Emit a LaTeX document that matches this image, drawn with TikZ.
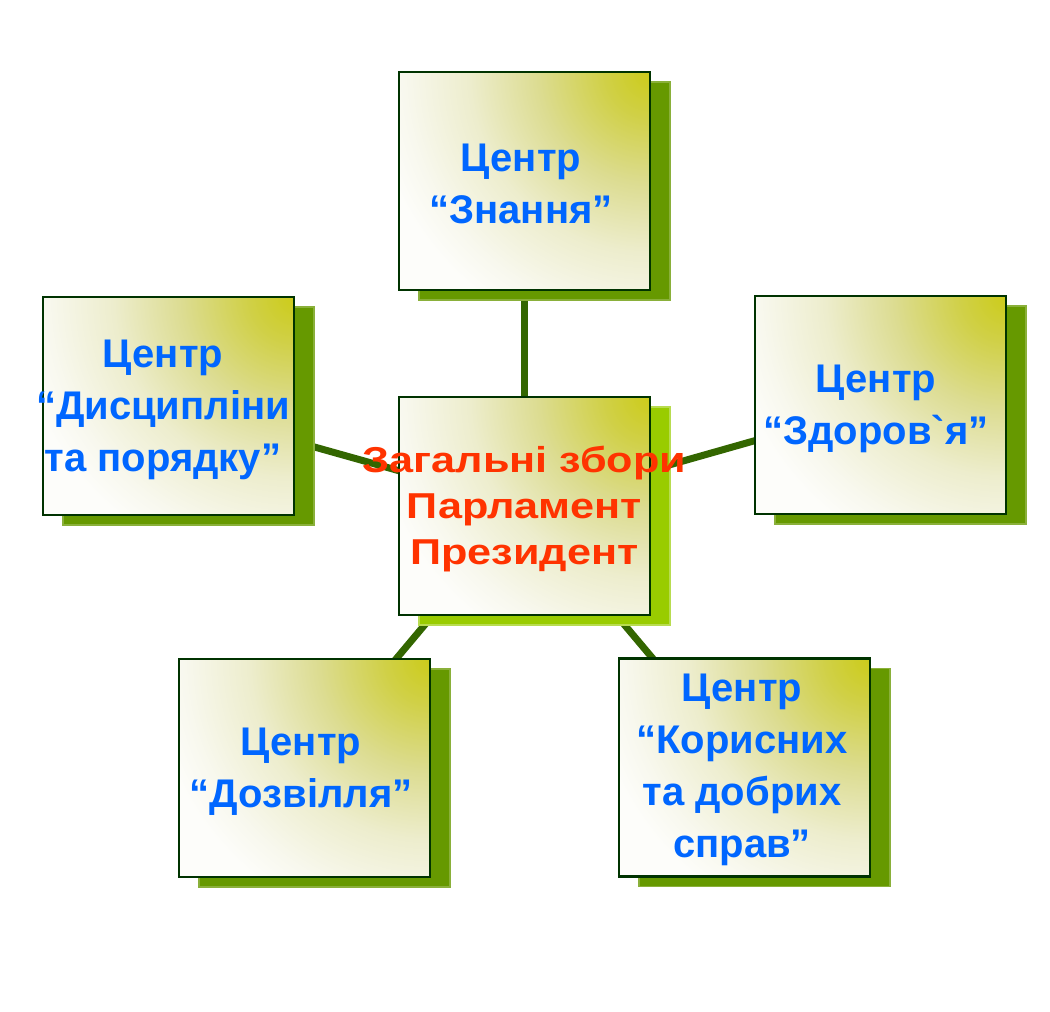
\documentclass[tikz,border=0pt]{standalone}
\usepackage{fontspec}
\newfontfamily\lsans{Liberation Sans}[Ligatures=TeXOff]
\newfontfamily\lsanswide{Liberation Sans}[FakeStretch=1.2]
\definecolor{bdr}{HTML}{003300}
\definecolor{conncol}{HTML}{336600}
\definecolor{shd}{HTML}{669900}
\definecolor{shdedge}{HTML}{8AB03A}
\definecolor{shdc}{HTML}{99CC00}
\definecolor{shdcedge}{HTML}{B8DC50}
\definecolor{blu}{RGB}{0,102,255}
\definecolor{rd}{RGB}{255,51,0}
\definecolor{ga}{RGB}{204,204,26}
\definecolor{gb}{RGB}{208,208,70}
\definecolor{gc}{RGB}{220,220,145}
\definecolor{gd}{RGB}{237,237,205}
\definecolor{ge}{RGB}{248,248,238}
\definecolor{gf}{RGB}{253,253,250}
\pgfdeclareradialshading{cornerglow}{\pgfpoint{0bp}{0bp}}{color(0bp)=(ga); color(2.8bp)=(gb); color(7bp)=(gc); color(11.3bp)=(gd); color(15.4bp)=(ge); color(17.5bp)=(gf); color(50bp)=(gf)}
\pgfdeclarelayer{bg}
\pgfsetlayers{bg,main}
\tikzset{
  gbox/.style={rectangle, inner sep=0pt, minimum width=251pt, minimum height=218pt,
    fill=gf, draw=bdr, line width=2.5pt,
    path picture={\shade[shading=cornerglow] (path picture bounding box.north east) circle (400);}},
  shadowbox/.style={rectangle, inner sep=0pt, minimum width=251pt, minimum height=218pt,
    fill=shd, draw=shdedge, line width=1.5pt},
  shadowctr/.style={shadowbox, fill=shdc, draw=shdcedge},
  conn/.style={draw=conncol, line width=7pt},
  bluetxt/.style={align=center, text=blu, inner sep=0pt,
    font=\lsans\bfseries\fontsize{40}{52}\selectfont},
  redtxt/.style={align=center, text=rd, inner sep=0pt,
    font=\lsanswide\bfseries\fontsize{36}{46}\selectfont}
}
\begin{document}
\begin{tikzpicture}[x=1pt,y=-1pt]
\useasboundingbox (0,0) rectangle (1050,1012);
% shadows
\node[shadowbox] (topS) at (544.5,191) {};
\node[shadowbox] (leftS) at (188.5,416) {};
\node[shadowctr] (ctrS) at (544.5,516) {};
\node[shadowbox] (rightS) at (900.5,415) {};
\node[shadowbox] (blS) at (324.5,778) {};
\node[shadowbox] (brS) at (764.5,777.5) {};
% boxes
\node[gbox] (top) at (524.5,181) {};
\node[gbox] (left) at (168.5,406) {};
\node[gbox] (ctr) at (524.5,506) {};
\node[gbox] (right) at (880.5,405) {};
\node[gbox] (bl) at (304.5,768) {};
\node[gbox] (br) at (744.5,767.5) {};
% connectors
\begin{pgfonlayer}{bg}
\draw[conn] (ctr.center) -- (top.center);
\draw[conn] (ctr.center) -- (left.center);
\draw[conn] (ctr.center) -- (right.center);
\draw[conn] (ctr.center) -- (bl.center);
\draw[conn] (ctr.center) -- (br.center);
\end{pgfonlayer}
% texts
\node[bluetxt] (topT) at (521,184) {Центр\\“Знання”};
\node[bluetxt] (leftT) at (163,410) {Центр\\“Дисципліни\\та порядку”};
\node[bluetxt] (rightT) at (876,409) {Центр\\“Здоров`я”};
\node[bluetxt] (blT) at (301,772) {Центр\\“Дозвілля”};
\node[bluetxt] (brT) at (742,770) {Центр\\“Корисних\\та добрих\\справ”};
\node[redtxt] (ctrT) at (524.5,509) {Загальні збори\\Парламент\\Президент};
\end{tikzpicture}
\end{document}
